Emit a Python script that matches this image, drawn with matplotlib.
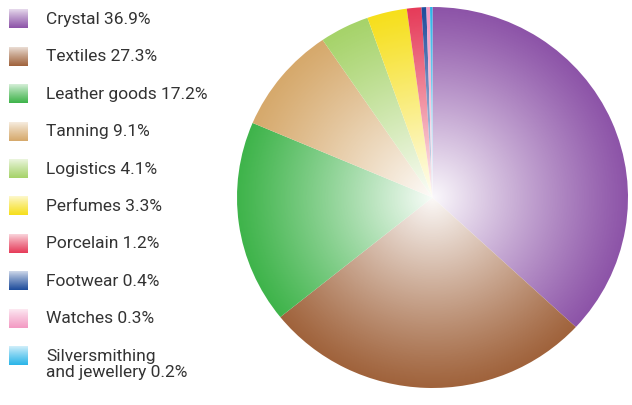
import numpy as np
import matplotlib
matplotlib.use("Agg")
import matplotlib.pyplot as plt
from matplotlib.colors import to_rgb
from matplotlib.patches import Ellipse

# data
categories = [
    "Crystal", "Textiles", "Leather goods", "Tanning", "Logistics",
    "Perfumes", "Porcelain", "Footwear", "Watches",
    "Silversmithing\nand jewellery",
]
shares = [36.9, 27.3, 17.2, 9.1, 4.1, 3.3, 1.2, 0.4, 0.3, 0.2]
colors = [
    "#8d54a8", "#a0633c", "#3fb44b", "#d6a96c", "#a6d36a",
    "#f6df1c", "#e63c5a", "#1f4d9c", "#f39ac3", "#2bb5e8",
]

plt.rcParams["font.family"] = ["Roboto", "DejaVu Sans"]

fig = plt.figure(figsize=(6.32, 4.05), dpi=100)

# pie with a white radial glow towards the centre
ax = fig.add_axes([237 / 632, 17 / 405, 391 / 632, 381 / 405])
wedges, _ = ax.pie(shares, colors=colors, startangle=90, counterclock=False,
                   wedgeprops=dict(linewidth=0))
ax.set_xlim(-1, 1)
ax.set_ylim(-1, 1)
ax.set_aspect("auto")
ax.axis("off")

n = 500
xs = np.linspace(-1, 1, n)
gx, gy = np.meshgrid(xs, xs)
r = np.clip(np.hypot(gx, gy), 0, 1)
glow = np.ones((n, n, 4))
glow[..., 3] = 0.97 * (1 - r) ** 1.1
im = ax.imshow(glow, extent=(-1, 1, -1, 1), origin="lower", zorder=3,
               interpolation="bilinear", aspect="auto")
im.set_clip_path(Ellipse((0, 0), 2, 2, transform=ax.transData))

# legend drawn by hand: gradient swatches + labels
lax = fig.add_axes([0, 0, 1, 1])
lax.set_xlim(0, 632)
lax.set_ylim(405, 0)
lax.axis("off")

ramp = np.linspace(0, 1, 40)[:, None]
for i, (name, share, col) in enumerate(zip(categories, shares, colors)):
    y = 19 + i * 37.4
    rgb = np.array(to_rgb(col))
    t = (0.15 + 0.85 * ramp) ** 0.8
    swatch = (1 - t)[..., None] * np.ones(3) + t[..., None] * rgb
    swatch = np.repeat(swatch, 2, axis=1)
    lax.imshow(swatch, extent=(9, 28, y + 9.5, y - 9.5), aspect="auto",
               interpolation="bilinear")
    lax.text(46, y - 7, f"{name} {share}%", ha="left", va="top",
             fontsize=12.5, color="#333333", linespacing=1.15)

lax.set_xlim(0, 632)
lax.set_ylim(405, 0)

fig.savefig("out.png", dpi=100)
